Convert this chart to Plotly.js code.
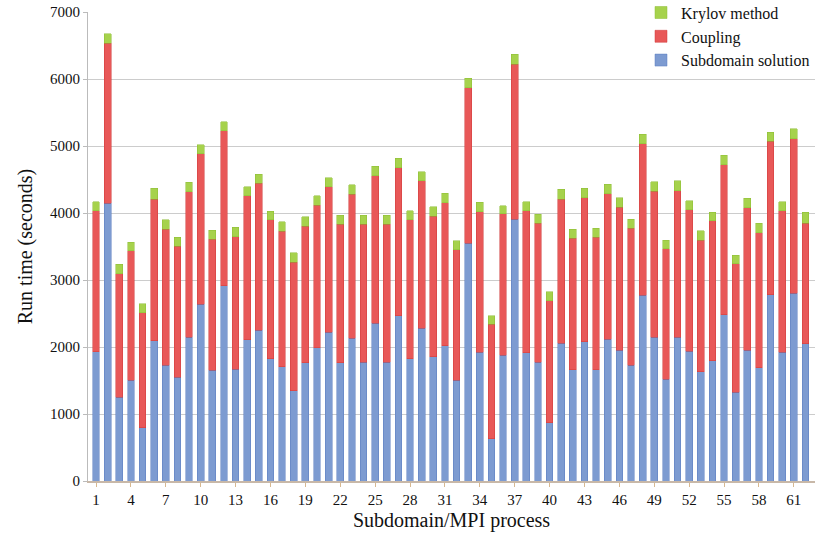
<!DOCTYPE html>
<html>
<head>
<meta charset="utf-8">
<script src="https://cdn.plot.ly/plotly-3.0.1.min.js"></script>
<style>html,body{margin:0;padding:0;background:#fff;}#chart{width:817px;height:535px;}</style>
</head>
<body>
<div id="chart"></div>
<script>
// Subdomain/MPI process index
const processes = Array.from({length: 62}, (_, i) => i + 1);
// Subdomain solution time (seconds)
const subdomain = [1930,4144,1249,1507,796,2095,1731,1547,2144,2637,1652,2915,1667,2109,2249,1821,1706,1348,1766,1990,
  2219,1766,2129,1776,2353,1776,2463,1826,2279,1856,2020,1507,3547,1920,632,1876,3905,1915,1771,871,
  2055,1657,2080,1657,2119,1955,1726,2771,2149,1517,2149,1935,1632,1796,2478,1323,1955,1692,2781,1920,2801,2045];
// Coupling time (seconds)
const coupling = [2105,2388,1841,1931,1716,2114,2030,1960,2174,2244,1960,2309,1980,2150,2194,2075,2020,1916,2040,2129,
  2174,2065,2150,2055,2204,2055,2214,2070,2199,2099,2134,1941,2324,2100,1706,2114,2314,2115,2075,1821,
  2154,1965,2149,1980,2165,2130,2050,2259,2179,1946,2184,2115,1965,2085,2243,1921,2125,2014,2289,2110,2308,1801];
// Krylov method time (seconds)
const krylov = [134,140,144,129,135,159,139,130,140,139,134,139,139,134,139,129,140,144,139,135,
  134,139,139,139,144,139,139,134,139,135,140,139,139,139,130,119,149,139,139,134,
  144,134,139,134,144,139,134,144,140,134,145,134,139,134,140,129,139,140,139,139,145,169];
const tickLabels = processes.filter(p => (p - 1) % 3 === 0);

const fontFam = '"Liberation Serif", "Times New Roman", serif';

const traces = [
  {name: 'Subdomain solution', x: processes, y: subdomain, type: 'bar',
   marker: {color: '#7d9bd1', line: {color: '#5a7cc0', width: 0.5}}},
  {name: 'Coupling', x: processes, y: coupling, type: 'bar',
   marker: {color: '#e85858', line: {color: '#d03a3a', width: 0.5}}},
  {name: 'Krylov method', x: processes, y: krylov, type: 'bar',
   marker: {color: '#a6d24c', line: {color: '#8cbc34', width: 0.5}}}
];

const layout = {
  width: 817, height: 535,
  margin: {l: 88, r: 2, t: 12, b: 54, autoexpand: false},
  barmode: 'stack',
  bargap: 0.42,
  paper_bgcolor: '#fff', plot_bgcolor: '#fff',
  font: {family: fontFam, color: '#111', size: 15},
  showlegend: true,
  legend: {
    traceorder: 'reversed', x: 1.0, xanchor: 'right', y: 1.035, yanchor: 'top',
    bgcolor: 'rgba(255,255,255,1)', font: {family: fontFam, size: 16, color: '#111'},
    itemwidth: 30, tracegroupgap: 0
  },
  xaxis: {
    type: 'linear', range: [0.31, 62.82],
    tickmode: 'array', tickvals: tickLabels, ticktext: tickLabels.map(String),
    showgrid: false, zeroline: false,
    showline: true, linecolor: '#c8b8a8', linewidth: 1.5,
    ticks: 'outside', ticklen: 4, tickcolor: '#d8b890',
    tickfont: {family: fontFam, size: 15, color: '#111'},
    title: {text: 'Subdomain/MPI process', font: {family: fontFam, size: 20, color: '#111'}, standoff: 6}
  },
  yaxis: {
    range: [0, 7000], tickmode: 'linear', tick0: 0, dtick: 1000,
    showgrid: true, gridcolor: '#cccccc', gridwidth: 1,
    zeroline: false, showline: true, linecolor: '#bbbbbb', linewidth: 1,
    ticks: 'outside', ticklen: 4, tickcolor: '#bbbbbb',
    tickfont: {family: fontFam, size: 15, color: '#111'},
    title: {text: 'Run time (seconds)', font: {family: fontFam, size: 20, color: '#111'}, standoff: 12}
  }
};

Plotly.newPlot('chart', traces, layout, {displayModeBar: false, staticPlot: true});
</script>
</body>
</html>
